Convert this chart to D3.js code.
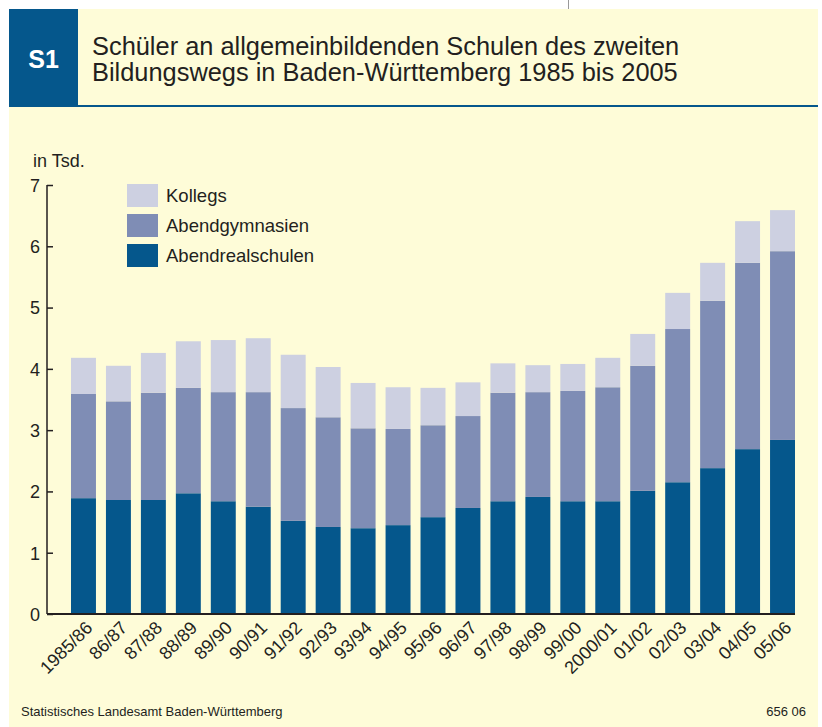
<!DOCTYPE html>
<html>
<head>
<meta charset="utf-8">
<script src="https://cdn.jsdelivr.net/npm/d3@7"></script>
<style>
	body { margin: 0; background: #fff; }
	svg { display: block; font-family: "Liberation Sans", Arial, sans-serif; }
</style>
</head>
<body>
<div id="chart"></div>
<script>
// Data (in Tsd.)
const years = ["1985/86", "86/87", "87/88", "88/89", "89/90", "90/91", "91/92", "92/93", "93/94", "94/95",
	"95/96", "96/97", "97/98", "98/99", "99/00", "2000/01", "01/02", "02/03", "03/04", "04/05", "05/06"];
const abendrealschulen = [1.89, 1.86, 1.86, 1.97, 1.84, 1.75, 1.52, 1.42, 1.40, 1.45,
	1.58, 1.73, 1.84, 1.91, 1.84, 1.84, 2.01, 2.15, 2.38, 2.69, 2.84];
const abendgymnasien = [1.70, 1.61, 1.75, 1.72, 1.78, 1.87, 1.84, 1.79, 1.63, 1.57,
	1.50, 1.50, 1.77, 1.71, 1.80, 1.86, 2.04, 2.50, 2.73, 3.04, 3.08];
const kollegs = [0.59, 0.58, 0.65, 0.76, 0.85, 0.88, 0.87, 0.82, 0.74, 0.68,
	0.61, 0.55, 0.48, 0.44, 0.44, 0.48, 0.52, 0.59, 0.62, 0.68, 0.67];
const seriesNames = ["Abendrealschulen", "Abendgymnasien", "Kollegs"];
const yTicks = [0, 1, 2, 3, 4, 5, 6, 7];

const colors = { Abendrealschulen: "#05578c", Abendgymnasien: "#7f8db5", Kollegs: "#cdd0e1" };
const width = 822, height = 727;
const bg = "#fefcd8", ink = "#231f20", blue = "#05578c";

const svg = d3.select("#chart").append("svg")
	.attr("width", width).attr("height", height);

// Panel + header
svg.append("rect").attr("x", 9).attr("y", 9).attr("width", 809).attr("height", height - 9).attr("fill", bg);
svg.append("line").attr("x1", 568.5).attr("x2", 568.5).attr("y1", 0).attr("y2", 9)
	.attr("stroke", "#999").attr("stroke-width", 1);
svg.append("rect").attr("x", 9).attr("y", 9).attr("width", 69).attr("height", 98).attr("fill", blue);
svg.append("line").attr("x1", 78).attr("x2", 818).attr("y1", 106).attr("y2", 106)
	.attr("stroke", blue).attr("stroke-width", 2);
svg.append("text").attr("x", 43.5).attr("y", 68).attr("text-anchor", "middle")
	.attr("fill", "#fff").attr("font-weight", "bold").attr("font-size", 25).text("S1");

const title = svg.append("text").attr("fill", ink).attr("font-size", 25.4);
title.append("tspan").attr("x", 92).attr("y", 55).text("Schüler an allgemeinbildenden Schulen des zweiten");
title.append("tspan").attr("x", 92).attr("y", 81).text("Bildungswegs in Baden-Württemberg 1985 bis 2005");

// Scales
const scaleX = d3.scaleBand(years, [61, 805]).padding(0.286);
const scaleY = d3.scaleLinear([0, 7], [614, 185]);

const rows = years.map((y, i) => ({
	year: y,
	Abendrealschulen: abendrealschulen[i],
	Abendgymnasien: abendgymnasien[i],
	Kollegs: kollegs[i]
}));
const stacked = d3.stack().keys(seriesNames)(rows);

svg.append("g").selectAll("g")
	.data(stacked)
	.join("g")
	.attr("fill", (d) => colors[d.key])
	.selectAll("rect")
	.data((d) => d)
	.join("rect")
	.attr("x", (d) => scaleX(d.data.year))
	.attr("width", scaleX.bandwidth())
	.attr("y", (d) => scaleY(d[1]))
	.attr("height", (d) => scaleY(d[0]) - scaleY(d[1]));

// Y axis (ticks pointing inward)
const axisY = svg.append("g").attr("transform", "translate(47,0)")
	.call(d3.axisRight(scaleY).tickValues(yTicks).tickFormat(d3.format("d")).tickSize(6));
axisY.select(".domain").remove();
axisY.selectAll("line").attr("stroke", ink).attr("stroke-width", 1.5);
axisY.selectAll("text").attr("text-anchor", "end").attr("x", -7).attr("dy", "0.35em")
	.attr("font-size", 18).attr("fill", ink).attr("font-family", "Liberation Sans, Arial, sans-serif");
svg.append("line").attr("x1", 47).attr("x2", 47).attr("y1", 185).attr("y2", 614)
	.attr("stroke", ink).attr("stroke-width", 1.5);

// X axis
const axisX = svg.append("g").attr("transform", "translate(0,614)")
	.call(d3.axisBottom(scaleX).tickSize(0).tickPadding(0));
axisX.select(".domain").remove();
axisX.selectAll("text")
	.attr("text-anchor", "end")
	.attr("font-size", 18).attr("fill", ink).attr("font-family", "Liberation Sans, Arial, sans-serif")
	.attr("dy", 0).attr("y", 0)
	.attr("transform", "translate(10,15) rotate(-45)");
svg.append("line").attr("x1", 47).attr("x2", 795).attr("y1", 614).attr("y2", 614)
	.attr("stroke", ink).attr("stroke-width", 2);

svg.append("text").attr("x", 33).attr("y", 167).attr("font-size", 18).attr("fill", ink).text("in Tsd.");

// Legend
const legendItems = ["Kollegs", "Abendgymnasien", "Abendrealschulen"];
const legend = svg.append("g").selectAll("g")
	.data(legendItems)
	.join("g")
	.attr("transform", (d, i) => `translate(127, ${184 + i * 30})`);
legend.append("rect").attr("width", 31).attr("height", 23).attr("fill", (d) => colors[d]);
legend.append("text").attr("x", 39).attr("y", 18).attr("font-size", 18.5).attr("fill", ink).text((d) => d);

// Footer
svg.append("text").attr("x", 21).attr("y", 716).attr("font-size", 13).attr("fill", ink)
	.text("Statistisches Landesamt Baden-Württemberg");
svg.append("text").attr("x", 806).attr("y", 716).attr("text-anchor", "end").attr("font-size", 13).attr("fill", ink)
	.text("656 06");
</script>
</body>
</html>
